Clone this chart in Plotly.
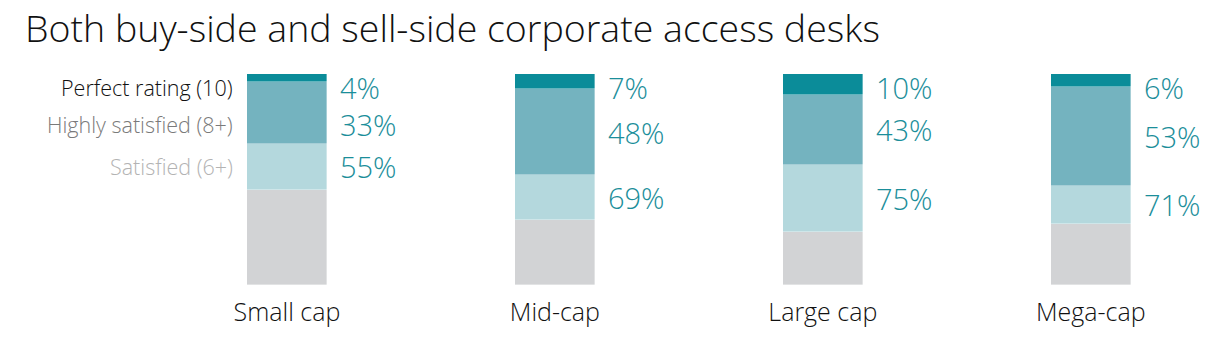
import plotly.graph_objects as go

categories = ["Small cap", "Mid-cap", "Large cap", "Mega-cap"]
perfect = [4, 7, 10, 6]          # Perfect rating (10), % of respondents
highly = [33, 48, 43, 53]        # Highly satisfied (8+), cumulative
satisfied = [55, 69, 75, 71]     # Satisfied (6+), cumulative
legend_labels = ["Perfect rating (10)", "Highly satisfied (8+)", "Satisfied (6+)"]

FONT = "Open Sans"
TEAL_TEXT = "#1b8e9a"
C_PERFECT = "#0b8c99"
C_HIGH = "#74b3bf"
C_SAT = "#b4d8dd"
C_REST = "#d2d3d5"

x = list(range(len(categories)))
rest = [100 - s for s in satisfied]
seg_sat = [s - h for s, h in zip(satisfied, highly)]
seg_high = [h - p for h, p in zip(highly, perfect)]

fig = go.Figure()
for vals, col in [(rest, C_REST), (seg_sat, C_SAT), (seg_high, C_HIGH), (perfect, C_PERFECT)]:
    fig.add_trace(go.Bar(x=x, y=vals, marker=dict(color=col, line=dict(width=0.6, color="rgba(255,255,255,0.6)")),
                         width=0.3, hoverinfo="skip", showlegend=False))

# value labels to the right of each bar
for i in range(len(categories)):
    tops = [100, 100 - perfect[i], 100 - highly[i]]
    bots = [100 - perfect[i], 100 - highly[i], 100 - satisfied[i]]
    vals = [perfect[i], highly[i], satisfied[i]]
    prev = None
    ys = []
    for t, b in zip(tops, bots):
        c = (t + b) / 2
        c = min(c, 93.5)
        if prev is not None:
            c = min(c, prev - 17.5)
        ys.append(c)
        prev = c
    for v, yy in zip(vals, ys):
        fig.add_annotation(x=i + 0.19, y=yy, text=f"{v}%", showarrow=False, xanchor="left",
                           yanchor="middle", font=dict(family=FONT, size=29, color=TEAL_TEXT, weight=300))
    if i == 0:
        lcols = ["#111111", "#7a7a7a", "#b3b3b3"]
        for lab, yy, lc in zip(legend_labels, ys, lcols):
            fig.add_annotation(x=i - 0.195, y=yy, text=lab, showarrow=False, xanchor="right",
                               yanchor="middle", font=dict(family=FONT, size=21.5, color=lc, weight=300))

fig.update_layout(
    width=1214, height=342,
    margin=dict(l=153, r=0, t=74, b=57),
    paper_bgcolor="white", plot_bgcolor="white",
    barmode="stack", bargap=0,
    title=dict(text="Both buy-side and sell-side corporate access desks", x=25/1214, xref="container",
               xanchor="left", y=0.915, yanchor="middle",
               font=dict(family=FONT, size=37.5, color="#111111", weight=300), pad=dict(l=0)),
    xaxis=dict(range=[-0.5, 3.46], tickmode="array", tickvals=x, ticktext=categories,
               showgrid=False, zeroline=False, showline=False, ticks="", ticklabelstandoff=10,
               tickfont=dict(family=FONT, size=25, color="#111111", weight=300)),
    yaxis=dict(range=[0, 100], visible=False),
)

fig.write_html("out.html")
